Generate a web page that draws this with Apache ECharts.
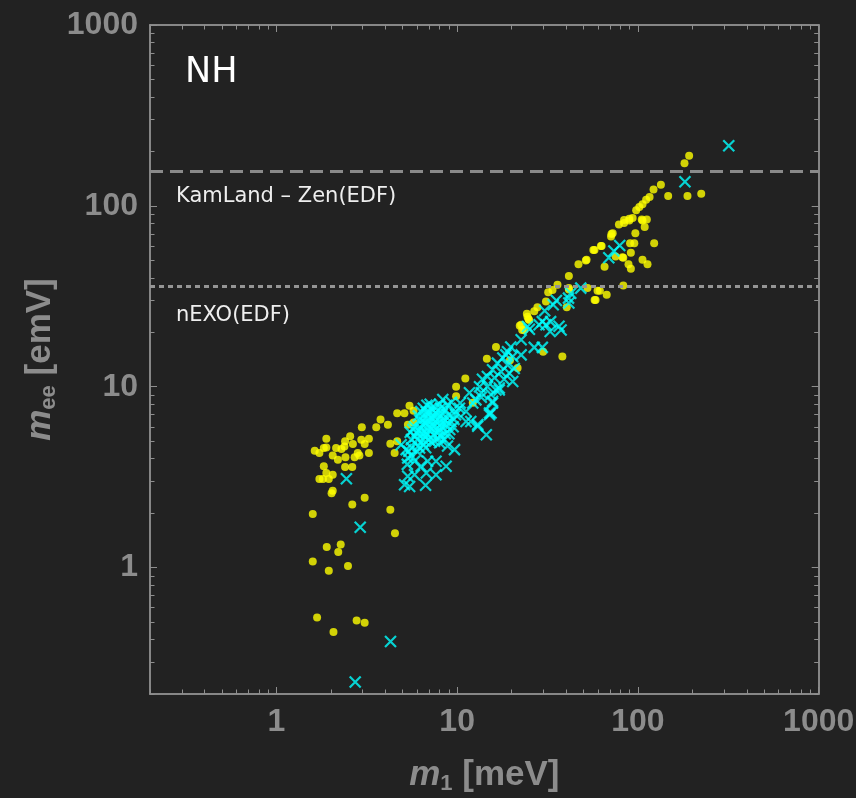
<!DOCTYPE html>
<html>
<head>
<meta charset="utf-8">
<script src="https://cdn.jsdelivr.net/npm/echarts@6/dist/echarts.min.js"></script>
<style>
  html, body { margin: 0; padding: 0; background: #222222; }
  #chart { width: 856px; height: 798px; }
</style>
</head>
<body>
<div id="chart"></div>
<script>
// Lightest neutrino mass m1 [meV] vs effective Majorana mass m_ee [meV], normal hierarchy
const yellowPoints = [
  [1.59,1.98],[1.90,1.30],[2.27,1.34],[2.20,1.22],[1.59,1.08],[1.95,0.96],[2.49,1.02],
  [1.68,0.53],[2.78,0.51],[3.08,0.495],[2.07,0.44],
  [2.05,2.66],[2.02,2.58],[2.63,2.23],[3.08,2.43],[4.27,2.09],[4.53,1.55],
  [1.63,4.43],[1.73,4.30],[1.83,4.58],[1.89,5.16],[1.89,4.62],[2.14,4.58],[2.29,4.52],
  [2.38,4.67],[2.40,4.99],[2.56,5.32],[2.65,4.82],[2.95,5.09],[3.08,4.82],[3.25,5.16],
  [2.97,5.97],[3.57,5.97],[3.77,6.58],[4.14,6.17],[4.66,7.14],[5.11,7.14],[5.45,7.85],
  [5.74,7.37],[5.34,6.17],[5.74,6.35],[4.27,4.84],[4.66,4.99],[4.51,4.30],[3.25,4.30],
  [2.82,4.30],[2.05,4.17],[2.19,3.95],[2.41,4.07],[2.71,4.07],[2.88,4.17],[1.83,3.63],
  [2.40,3.60],[2.63,3.60],[1.89,3.33],[2.05,3.26],[1.73,3.09],[1.95,3.09],[1.81,3.09],
  [9.87,10.0],[9.87,8.85],[12.2,8.15],[11.1,11.1],[14.6,14.3],[16.4,16.6],[19.6,14.0],
  [21.6,12.7],[29.9,15.6],[38.2,14.7],
  [24.5,24.4],[25.0,23.4],[22.6,22.0],[23.5,20.6],[22.2,21.7],[22.9,20.6],[24.3,25.3],
  [24.8,23.7],[26.7,26.1],[27.8,27.5],[31.0,29.6],[31.9,33.3],[33.7,34.3],[35.9,36.6],
  [41.5,35.1],[41.5,41.0],[40.4,27.5],[52.6,35.1],[61.6,33.9],[67.2,32.2],[58.3,30.2],
  [83.0,36.3],[46.9,47.6],[51.5,49.9],[56.7,57.0],[62.4,59.9],[65.4,46.1],[75.3,52.4],
  [82.1,52.0],[88.7,47.6],[91.4,44.9],[91.4,55.0],[106,50.4],[113,47.6],[71.4,70.0],
  [72.5,70.6],[71.0,67.6],[90.5,62.2],[95.5,62.2],[96.8,70.6],[123,62.2],[78.5,78.9],
  [83.8,80.5],[83.8,83.5],[89.6,83.0],[89.6,85.0],[93.5,85.6],[97.8,94.6],[101.8,98.5],
  [106,102],[111,108],[116,112],[122,123],[134,131],[147,113.5],[188,113.5],[224,116.8],
  [192,189],[181,172],[105,84],[112,84],[109,76.5],[106,83],[63,60],[57.5,57],[52,50.3],
  [83,51.7],[41.5,34.5],[59.8,33.9],[57.6,30.2]
];

const cyanPoints = [
  [2.44,3.1],[2.91,1.67],[4.28,0.39],[2.73,0.233],
  [4.90,4.78],[5.22,4.49],[5.33,4.04],[6.2,4.58],[5.81,3.87],[6.32,3.63],[6.87,3.87],
  [7.64,3.87],[8.69,3.63],[7.64,3.26],[6.75,3.33],[5.81,3.26],[5.33,3.2],[5.12,2.87],
  [5.46,2.81],[6.69,2.85],[9.67,4.49],[11.2,6.43],[11.9,6.43],[13.0,6.04],[14.5,5.43],
  [15.1,7.0],[15.7,8.3],[13.6,8.75],[17.1,9.6],[12.2,8.12],[8.33,8.49],
  [6.03,5.1],[6.2,5.8],[6.43,6.17],[6.6,6.7],[6.75,7.25],[7.0,6.55],[7.2,5.9],[7.4,5.43],
  [7.6,6.4],[7.8,7.0],[8.0,5.8],[8.2,6.25],[8.4,6.7],[8.6,7.45],[6.85,5.43],[6.5,5.1],
  [7.2,4.95],[7.8,5.2],[8.5,5.1],[9.1,5.8],[9.25,6.4],[9.8,7.0],[10.3,7.6],[7.5,7.7],
  [8.0,8.0],[6.9,6.17],[7.3,6.7],[6.7,5.6],[6.35,5.5],[5.87,5.3],[5.58,5.1],[7.0,7.25],
  [6.2,6.55],[5.8,6.0],[7.7,5.9],[8.1,5.3],[8.85,4.7],[6.7,4.6],[6.03,4.37],[5.58,4.15],
  [5.3,3.72],[8.7,6.17],[8.3,7.1],[7.1,8.0],
  [6.1,6.9],[6.3,7.3],[6.5,7.6],[6.8,7.9],[7.2,7.6],[7.6,7.2],[8.1,7.6],[8.8,7.9],
  [9.3,8.2],[9.0,7.0],[8.6,6.5],[8.2,6.0],[7.9,5.6],[7.4,6.0],[7.0,6.0],[6.6,6.3],
  [6.3,5.9],[6.0,5.6],[6.6,5.3],[7.0,5.1],[7.5,5.0],[8.0,4.9],[8.6,5.5],[9.0,5.5],
  [9.5,6.0],[9.6,6.6],[7.4,6.9],[6.9,6.9],[7.9,6.7],[6.5,4.8],[6.1,4.7],[5.6,4.6],
  [5.4,4.4],[5.5,5.6],[5.7,5.8],
  [29.6,22.9],[32.9,22.9],[28.4,22.0],[31.0,22.0],[32.7,20.2],[37.6,20.6],[24.5,21.5],
  [22.6,18.2],[26.7,16.5],[29.6,16.5],[19.8,16.6],[19.0,15.6],[20.3,14.7],[22.6,15.0],
  [17.9,14.4],[16.7,13.5],[19.0,13.2],[20.7,12.6],[15.7,12.4],[17.5,12.1],[19.4,11.9],
  [14.7,11.4],[13.8,11.0],[16.1,11.2],[18.2,11.0],[20.3,10.7],[13.3,10.0],[14.7,10.0],
  [17.1,9.85],[13.6,9.25],[15.4,9.05],[15.7,8.12],[15.1,7.15],[13.0,6.17],[11.7,9.25],
  [12.7,8.46],[10.4,8.12],[9.8,7.3],[11.2,7.3],[18.6,15.0],[16.4,9.6],[15.4,7.15],
  [35.4,30.0],[34.0,28.4],[30.5,26.3],[25.1,20.8],[41.3,30.9],[41.5,29.0],[42.5,32.9],
  [48.3,35.1],[36.6,21.6],[79.3,60.3],[69.0,51.7],[73.6,56.3],[182,136],[318,215]
];

// Experimental sensitivity limits on m_ee [meV]
const kamlandLimit = 156;
const nexoLimit = 36;

// Log-axis ticks
const majorTicks = [1, 10, 100, 1000];
const minorTicks = [0.2,0.3,0.4,0.5,0.6,0.7,0.8,0.9,
                    2,3,4,5,6,7,8,9,
                    20,30,40,50,60,70,80,90,
                    200,300,400,500,600,700,800,900];

const axisMin = 0.2, axisMax = 1000;
const frameColor = '#8e8e8e';
const labelColor = '#8c8c8c';
const labelFont = '"Liberation Sans", Arial, sans-serif';

function frameAxis(position, ticks, tickLen, withLabels, extra) {
  return Object.assign({
    type: 'log',
    logBase: 10,
    min: axisMin,
    max: axisMax,
    position: position,
    axisLine: { show: true, lineStyle: { color: frameColor, width: 1.5 } },
    axisTick: { show: true, inside: true, length: tickLen, customValues: ticks,
                lineStyle: { color: frameColor, width: 1 } },
    axisLabel: withLabels ? {
      show: true, customValues: ticks, color: labelColor, fontSize: 32,
      fontWeight: 'bold', fontFamily: labelFont, margin: 12,
      formatter: v => String(Math.round(v))
    } : { show: false },
    minorTick: { show: false },
    splitLine: { show: false },
    nameMoveOverlap: false
  }, extra || {});
}

const nameRich = {
  i: { fontStyle: 'italic', fontWeight: 'bold', fontSize: 35, color: labelColor,
       fontFamily: labelFont, lineHeight: 40 },
  s: { fontWeight: 'bold', fontSize: 22, color: labelColor, fontFamily: labelFont,
       lineHeight: 20, verticalAlign: 'bottom' },
  r: { fontWeight: 'bold', fontSize: 35, color: labelColor, fontFamily: labelFont,
       lineHeight: 40 }
};

const chart = echarts.init(document.getElementById('chart'), null, { renderer: 'canvas' });

chart.setOption({
  backgroundColor: '#222222',
  animation: false,
  grid: { left: 150, top: 25, right: 37.3, bottom: 104, containLabel: false, outerBoundsMode: 'none' },
  xAxis: [
    frameAxis('bottom', majorTicks, 7, true, {
      name: '{i|m}{s|1}{r| [meV]}',
      nameLocation: 'middle',
      nameGap: 61,
      nameTextStyle: { rich: nameRich }
    }),
    frameAxis('bottom', minorTicks, 4.5, false),
    frameAxis('top', majorTicks, 7, false),
    frameAxis('top', minorTicks, 4.5, false)
  ],
  yAxis: [
    frameAxis('left', majorTicks, 7, true, {
      name: '{i|m}{s|ee}{r| [emV]}',
      nameLocation: 'middle',
      nameGap: 90,
      nameRotate: 90,
      nameTextStyle: { rich: nameRich }
    }),
    frameAxis('left', minorTicks, 4.5, false),
    frameAxis('right', majorTicks, 7, false),
    frameAxis('right', minorTicks, 4.5, false)
  ],
  series: [
    {
      type: 'scatter',
      xAxisIndex: 0, yAxisIndex: 0,
      data: yellowPoints,
      symbol: 'circle',
      symbolSize: 8,
      itemStyle: { color: '#ffff00' },
      silent: true,
      markLine: {
        silent: true,
        symbol: ['none', 'none'],
        label: { show: false },
        data: [
          { yAxis: kamlandLimit, lineStyle: { type: [13, 7], width: 3, color: '#8a8a8a' } },
          { yAxis: nexoLimit, lineStyle: { type: [5, 4], width: 3, color: '#959595' } }
        ]
      }
    },
    {
      type: 'scatter',
      xAxisIndex: 0, yAxisIndex: 0,
      data: cyanPoints,
      symbol: 'path://M0,0L10,10M10,0L0,10',
      symbolSize: 11,
      itemStyle: { color: 'rgba(0,0,0,0)', borderColor: '#00ffff', borderWidth: 2.2 },
      silent: true
    }
  ],
  graphic: [
    { type: 'text', left: 185, top: 55,
      style: { text: 'NH', fill: '#ffffff', font: '35px "DejaVu Sans", sans-serif' } },
    { type: 'text', left: 176, top: 186,
      style: { text: 'KamLand – Zen(EDF)', fill: '#eeeeee', font: '21px "DejaVu Sans", sans-serif' } },
    { type: 'text', left: 176, top: 305,
      style: { text: 'nEXO(EDF)', fill: '#eeeeee', font: '21px "DejaVu Sans", sans-serif' } }
  ]
});
</script>
</body>
</html>
